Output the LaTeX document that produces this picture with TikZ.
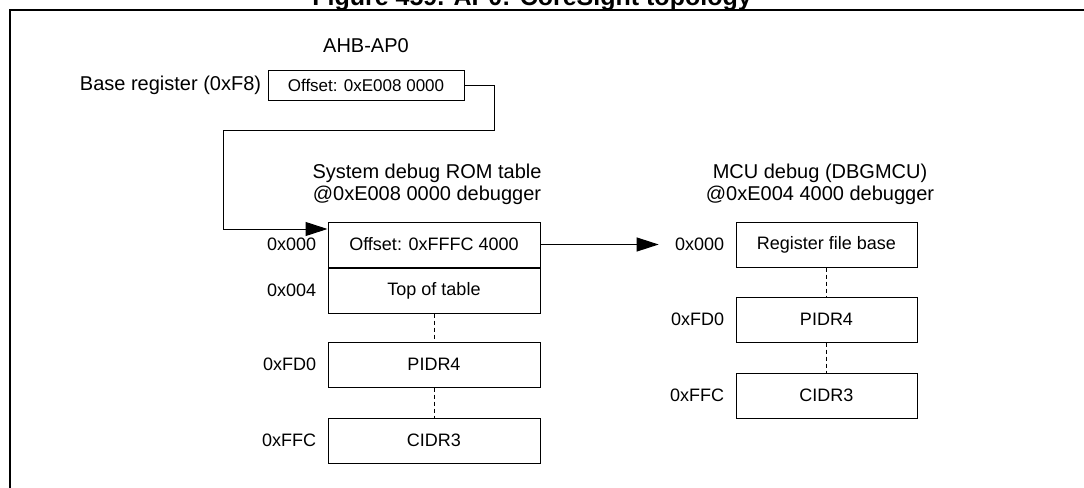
\documentclass[tikz,border=0pt]{standalone}
\usepackage{fontspec}
\setmainfont{Liberation Sans}
\usetikzlibrary{arrows.meta,positioning}
\tikzset{
  regbox/.style={rectangle, draw, line width=0.5pt, inner sep=0pt,
                 minimum width=106pt, minimum height=22.5pt,
                 font=\fontsize{9}{10}\selectfont},
  mcubox/.style={regbox, minimum width=90.5pt},
  addr/.style={font=\fontsize{9}{10}\selectfont, inner sep=0pt},
  ttl/.style={font=\fontsize{10}{10}\selectfont, align=center, inner sep=0pt},
  gap/.style={line width=0.5pt, dash pattern=on 2pt off 1.5pt},
  arr/.style={-{Triangle[length=11pt,width=7pt]}, line width=0.5pt},
}
\begin{document}
\begin{tikzpicture}[x=0.5pt, y=-0.5pt]
  \useasboundingbox (0,0) rectangle (1084,488);
  \clip (0,0) rectangle (1084,488);
  % ---- frame and cut title ----
  \draw[line width=1pt] (1100,10) -| (10,500);
  \node[font=\bfseries\fontsize{12.5}{12.5}\selectfont, anchor=base, inner sep=0pt] (fig) at (532,5) {Figure 459. AP0: CoreSight topology};

  % ---- AHB-AP0 ----
  \node[regbox, minimum width=98pt, minimum height=15pt, font=\fontsize{8.5}{10}\selectfont] (ahb) at (366,85) {Offset: 0xE008 0000};
  \node[ttl] (ahbttl) at (366,46) {AHB-AP0};
  \node[addr, font=\fontsize{10}{10}\selectfont, left=3pt of ahb] (basereg) {Base register (0xF8)};

  % ---- system debug ROM table ----
  \node[ttl] (romttl) at (427,184) {System debug ROM table\\[1pt]@0xE008 0000 debugger};
  \node[regbox] (romoff) at (434,244.5) {Offset: 0xFFFC 4000};
  \node[regbox, below=0pt of romoff] (romtop) {Top of table};
  \node[regbox] (rompidr) at (434,364.5) {PIDR4};
  \node[regbox] (romcidr) at (434,440.5) {CIDR3};
  \node[addr, left=5.5pt of romoff] (roma0) {0x000};
  \node[addr, left=5.5pt of romtop] (roma4) {0x004};
  \node[addr, left=5.5pt of rompidr] (romafd) {0xFD0};
  \node[addr, left=5.5pt of romcidr] (romaff) {0xFFC};
  \draw[gap] (romtop.south) -- (rompidr.north);
  \draw[gap] (rompidr.south) -- (romcidr.north);

  % ---- MCU debug ----
  \node[ttl] (mcuttl) at (820,184) {MCU debug (DBGMCU)\\[1pt]@0xE004 4000 debugger};
  \node[mcubox] (mcureg) at (826.5,244.5) {Register file base};
  \node[mcubox] (mcupidr) at (826.5,319.5) {PIDR4};
  \node[mcubox] (mcucidr) at (826.5,395.5) {CIDR3};
  \node[addr, left=5.5pt of mcureg] (mcua0) {0x000};
  \node[addr, left=5.5pt of mcupidr] (mcuafd) {0xFD0};
  \node[addr, left=5.5pt of mcucidr] (mcuaff) {0xFFC};
  \draw[gap] (mcureg.south) -- (mcupidr.north);
  \draw[gap] (mcupidr.south) -- (mcucidr.north);

  % ---- connectors ----
  \draw[arr] (ahb.east) -- (494,85) -- (494,130) -- (223,130) -- (223,229) -- (romoff.west |- 0,229);
  \draw[arr] (romoff.east) -- ([xshift=-8pt]mcua0.west);
\end{tikzpicture}
\end{document}
